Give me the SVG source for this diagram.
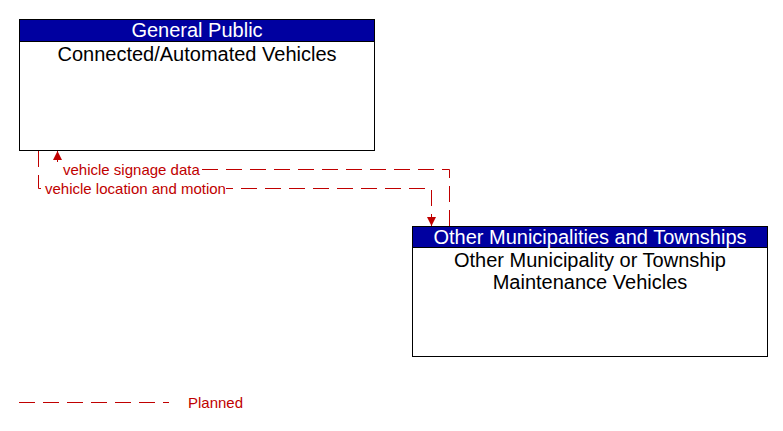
<svg xmlns="http://www.w3.org/2000/svg" width="783" height="431" viewBox="0 0 783 431">
<style>
.box{fill:#fff;stroke:#000;stroke-width:1}
.hdr{fill:#0000a0;stroke:#000;stroke-width:1}
.ht{font-family:"Liberation Sans",Arial,sans-serif;font-size:20px;fill:#fff;text-anchor:middle}
.bt{font-family:"Liberation Sans",Arial,sans-serif;font-size:20px;fill:#000;text-anchor:middle}
.fl{fill:none;stroke:#c00000;stroke-width:1;stroke-dasharray:16 8}
.lt{font-family:"Liberation Sans",Arial,sans-serif;font-size:15px;fill:#c00000}
.bg{fill:#fff}
</style>
<defs>
<marker id="arr" viewBox="0 0 10 10" refX="10" refY="5" markerWidth="9" markerHeight="9" markerUnits="userSpaceOnUse" orient="auto">
<path d="M0,0 L10,5 L0,10 z" fill="#c00000"/>
</marker>
</defs>
<rect width="783" height="431" fill="#fff"/>
<g id="node-cav">
<rect class="box" x="19.5" y="19.5" width="355" height="131"/>
<rect class="hdr" x="19.5" y="19.5" width="355" height="22"/>
<text class="ht" x="197" y="37">General Public</text>
<text class="bt" x="197" y="61">Connected/Automated Vehicles</text>
</g>
<g id="node-omt">
<rect class="box" x="412.5" y="226.5" width="355" height="130"/>
<rect class="hdr" x="412.5" y="226.5" width="355" height="21"/>
<text class="ht" x="590" y="244">Other Municipalities and Townships</text>
<text class="bt" x="590" y="267">Other Municipality or Township</text>
<text class="bt" x="590" y="289">Maintenance Vehicles</text>
</g>
<g id="connectors">
<path class="fl" d="M449.5,226 L449.5,169.5 L57.5,169.5 L57.5,151" marker-end="url(#arr)"/>
<rect class="bg" x="58" y="162" width="144" height="15"/>
<text class="lt" x="63" y="175">vehicle signage data</text>
<path class="fl" d="M38.5,151 L38.5,188.5 L431.5,188.5 L431.5,226" marker-end="url(#arr)"/>
<rect class="bg" x="43" y="181" width="183" height="15"/>
<text class="lt" x="45" y="194">vehicle location and motion</text>
</g>
<g id="legend">
<line class="fl" x1="19" y1="402.5" x2="169" y2="402.5"/>
<text class="lt" x="188" y="408" font-size="16">Planned</text>
</g>
</svg>
